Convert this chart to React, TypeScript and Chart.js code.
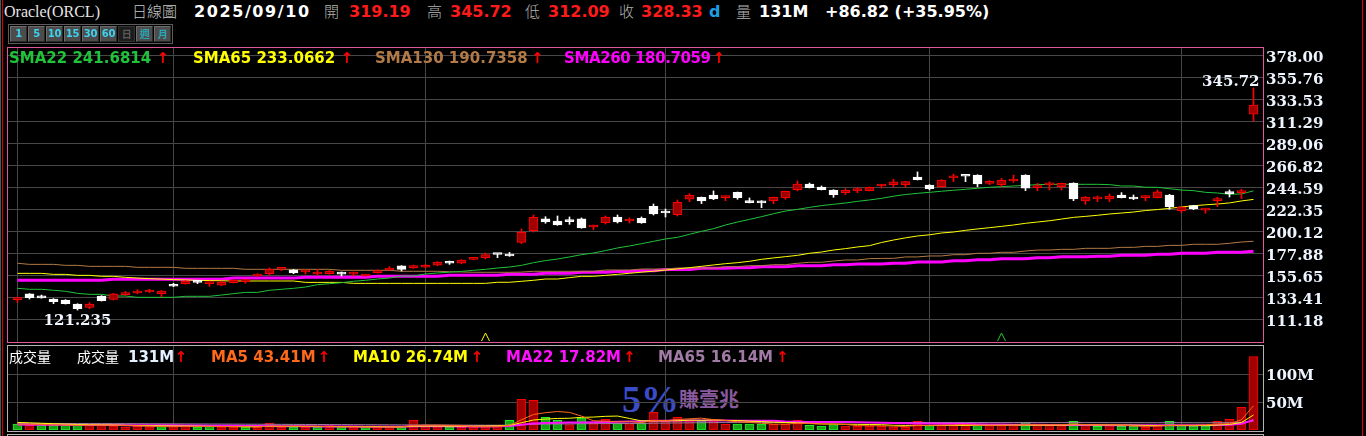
import React, { useEffect, useRef } from 'react';
import { Chart, registerables } from 'chart.js';

Chart.register(...registerables);

// ---------------- data ----------------
const opens = [
  131.8, 137.5, 135.4, 132.4, 131.4, 127.3, 124.0, 135.4, 132.1, 136.8,
  138.5, 139.5, 137.8, 146.9, 147.9, 149.5, 147.9, 146.5, 148.9, 150.0,
  155.65, 158.0, 162.5, 162.0, 159.8, 157.7, 158.0, 157.9, 157.6, 155.65,
  159.0, 161.7, 165.8, 163.7, 164.5, 166.5, 169.8, 168.5, 172.5, 174.2,
  177.7, 177.9, 189.7, 201.5, 213.3, 211.2, 210.8, 213.3, 205.2, 209.6,
  215.3, 211.2, 214.0, 226.1, 219.6, 217.6, 233.2, 235.2, 237.5, 234.8,
  240.2, 231.5, 229.8, 231.8, 234.8, 242.9, 248.6, 245.6, 242.6, 239.9,
  241.6, 241.9, 246.6, 248.0, 248.0, 255.7, 247.6, 245.9, 254.8, 256.8,
  257.7, 249.3, 248.0, 251.7, 257.7, 245.0, 247.8, 245.9, 249.6, 231.5,
  233.6, 233.5, 237.5, 235.5, 234.8, 234.8, 237.5, 221.7, 226.7, 222.2,
  231.8, 240.9, 239.9, 319.19,
];
const highs = [
  134.3, 137.9, 136.4, 132.8, 131.7, 127.6, 128.7, 135.8, 138.2, 140.0,
  141.8, 142.2, 141.0, 148.2, 151.0, 150.6, 149.6, 150.2, 152.0, 152.0,
  158.0, 163.7, 164.1, 162.3, 161.4, 162.4, 161.2, 159.7, 159.7, 157.3,
  161.7, 165.1, 166.1, 166.6, 167.2, 170.2, 170.8, 172.2, 174.2, 178.9,
  177.8, 179.5, 203.2, 217.3, 215.6, 216.3, 215.3, 214.3, 207.2, 216.3,
  217.3, 214.3, 215.3, 228.4, 223.3, 232.5, 238.9, 235.5, 241.6, 236.5,
  240.5, 234.5, 231.8, 235.5, 241.5, 251.7, 249.6, 246.6, 242.9, 243.9,
  244.9, 245.6, 248.3, 253.4, 251.4, 260.8, 248.0, 253.0, 258.7, 256.8,
  258.0, 252.0, 254.4, 257.7, 258.0, 249.3, 250.7, 249.6, 249.9, 236.0,
  236.5, 238.5, 239.9, 237.5, 236.8, 242.6, 238.2, 225.7, 227.1, 223.5,
  235.2, 242.6, 243.2, 345.72,
];
const lows = [
  128.9, 132.4, 133.2, 127.7, 127.3, 121.235, 122.6, 130.3, 131.4, 136.2,
  137.8, 139.0, 134.8, 144.9, 147.4, 147.9, 145.2, 146.0, 148.5, 148.3,
  155.3, 156.6, 161.0, 158.0, 157.7, 156.3, 157.5, 155.65, 155.65, 155.3,
  158.6, 161.3, 160.7, 163.3, 164.0, 166.0, 167.4, 168.0, 172.0, 172.9,
  174.2, 175.5, 188.3, 200.1, 208.9, 206.9, 207.9, 203.9, 202.5, 208.2,
  209.2, 209.2, 208.9, 217.3, 215.3, 216.3, 230.8, 228.8, 232.8, 231.8,
  233.2, 229.5, 224.7, 228.8, 233.2, 241.6, 244.6, 242.6, 235.2, 237.9,
  239.9, 241.6, 244.6, 246.0, 245.3, 252.7, 242.6, 245.3, 251.0, 251.0,
  245.9, 248.0, 246.0, 250.3, 241.9, 241.9, 242.6, 242.6, 231.8, 228.1,
  230.8, 230.8, 234.5, 232.8, 231.8, 234.5, 223.0, 219.7, 222.7, 219.0,
  225.7, 235.5, 233.9, 312.09,
];
const closes = [
  132.3, 133.7, 133.6, 129.7, 127.7, 122.6, 127.3, 130.7, 137.5, 138.8,
  140.5, 141.5, 140.5, 145.3, 150.6, 149.2, 148.3, 149.6, 151.3, 150.4,
  157.7, 162.4, 162.8, 158.7, 160.1, 159.7, 160.7, 157.6, 157.9, 157.0,
  161.0, 163.7, 162.4, 166.1, 166.8, 169.8, 168.5, 171.8, 173.4, 177.2,
  177.4, 175.9, 199.8, 214.9, 210.2, 207.2, 210.6, 204.2, 207.2, 215.3,
  210.2, 213.2, 209.2, 218.3, 219.3, 230.1, 237.2, 231.5, 233.5, 236.5,
  234.8, 229.8, 229.5, 235.2, 241.2, 248.6, 244.9, 242.9, 237.9, 242.6,
  243.9, 245.3, 248.0, 250.7, 251.0, 253.0, 243.9, 252.7, 255.2, 256.5,
  248.6, 250.6, 252.3, 253.7, 244.3, 245.4, 248.2, 249.3, 233.5, 235.5,
  234.0, 236.5, 234.8, 233.5, 236.5, 240.6, 225.7, 225.4, 223.8, 223.5,
  233.5, 238.9, 241.51, 328.33,
];
const prevClose = 134.0;

const sma22 = [
  143.2, 142.2, 142.2, 141.2, 140.2, 138.1, 137.1, 137.1, 135.4, 135.4,
  134.1, 134.1, 134.1, 134.1, 135.1, 135.1, 135.1, 136.4, 137.8, 139.1,
  139.1, 141.2, 142.2, 143.2, 144.5, 146.9, 147.9, 148.9, 150.3, 151.3,
  152.6, 153.6, 155.65, 155.65, 157.7, 158.7, 159.5, 160.3, 161.4, 162.4,
  163.7, 164.7, 166.4, 169.1, 171.2, 172.8, 174.9, 177.2, 178.9, 181.3,
  184.0, 186.0, 188.3, 190.7, 193.1, 194.7, 197.8, 200.8, 203.5, 207.2,
  210.2, 212.9, 215.6, 218.6, 221.3, 223.0, 225.0, 226.8, 228.1, 229.4,
  231.1, 232.5, 234.1, 236.3, 238.0, 239.2, 240.2, 241.3, 242.3, 243.3,
  244.3, 245.3, 246.0, 246.6, 247.3, 248.0, 248.3, 248.3, 248.3, 248.3,
  248.3, 248.0, 246.6, 246.6, 245.3, 245.3, 243.9, 242.5, 241.9, 240.2,
  239.5, 238.2, 238.6, 241.68,
];
const sma65 = [
  158.3, 158.3, 158.3, 157.3, 157.3, 156.3, 156.3, 155.3, 155.3, 154.3,
  153.6, 153.0, 152.5, 152.0, 151.7, 151.3, 151.0, 150.8, 150.6, 150.6,
  150.6, 150.6, 150.6, 150.6, 149.2, 149.2, 149.2, 149.2, 148.2, 148.2,
  148.2, 148.2, 148.2, 148.2, 148.2, 148.2, 148.2, 148.2, 148.2, 148.2,
  149.3, 149.3, 150.3, 151.3, 152.6, 152.6, 154.0, 155.3, 155.3, 156.3,
  157.3, 158.4, 159.5, 160.5, 161.6, 162.8, 164.1, 165.4, 166.8, 168.1,
  169.1, 170.5, 172.5, 173.9, 175.2, 176.5, 178.6, 179.9, 181.9, 183.3,
  185.0, 186.3, 189.5, 192.0, 194.2, 196.1, 197.3, 199.1, 200.1, 201.8,
  203.2, 204.5, 205.8, 207.2, 208.9, 210.2, 211.5, 213.2, 214.9, 215.9,
  217.0, 218.3, 219.3, 220.3, 221.8, 222.8, 224.0, 225.4, 226.7, 227.6,
  228.4, 229.5, 231.5, 233.07,
];
const sma130 = [
  168.5, 167.4, 167.4, 167.4, 166.4, 166.4, 165.4, 165.4, 165.4, 165.4,
  164.4, 164.4, 164.4, 164.4, 163.4, 163.4, 163.4, 163.4, 163.4, 162.4,
  162.4, 162.4, 162.4, 162.4, 162.4, 162.4, 162.4, 161.4, 161.4, 161.4,
  161.4, 161.4, 160.4, 160.4, 160.4, 160.4, 160.0, 159.7, 159.4, 159.4,
  159.4, 159.4, 159.6, 160.4, 160.4, 160.4, 160.4, 160.4, 160.4, 161.7,
  161.7, 161.7, 162.7, 162.7, 162.7, 163.7, 163.7, 163.7, 163.7, 165.1,
  165.1, 166.1, 166.1, 167.1, 167.1, 168.5, 169.5, 169.5, 170.8, 171.8,
  171.8, 173.2, 173.4, 173.5, 174.9, 174.9, 175.9, 175.9, 177.2, 177.2,
  178.6, 178.6, 179.6, 179.6, 180.9, 181.9, 181.9, 182.6, 182.6, 183.6,
  183.6, 183.6, 184.6, 184.6, 185.6, 185.6, 186.6, 186.6, 187.7, 187.7,
  187.7, 188.7, 190.0, 190.74,
];
const sma260 = [
  151.3, 151.3, 151.3, 151.3, 151.3, 151.3, 151.3, 151.3, 152.3, 152.3,
  152.3, 152.3, 152.3, 152.3, 152.3, 152.3, 152.3, 152.3, 153.5, 153.5,
  153.5, 153.5, 153.5, 153.5, 154.3, 154.3, 154.3, 154.3, 154.3, 154.3,
  155.3, 155.3, 155.3, 155.3, 155.3, 155.3, 156.3, 156.3, 156.3, 156.3,
  156.3, 157.3, 157.3, 157.3, 158.4, 158.4, 158.4, 159.4, 159.4, 159.4,
  160.2, 160.2, 161.0, 161.0, 162.1, 162.1, 162.1, 163.4, 163.4, 163.4,
  164.1, 164.1, 165.1, 165.1, 165.1, 166.1, 166.1, 166.1, 167.1, 167.1,
  167.8, 167.8, 167.8, 168.6, 168.6, 169.8, 169.8, 169.8, 171.0, 171.0,
  172.0, 172.0, 173.0, 173.0, 173.0, 174.0, 174.0, 175.0, 175.0, 175.0,
  175.7, 175.7, 176.7, 176.7, 176.7, 177.7, 177.7, 178.7, 178.7, 178.7,
  179.7, 179.7, 179.7, 180.71,
];

// volume in millions
const volume = [
  10.7, 8.3, 8.3, 8.3, 8.3, 9.5, 8.9, 8.9, 7.1, 5.4,
  6.5, 5.4, 6.0, 6.0, 7.7, 5.4, 6.5, 5.4, 5.4, 5.4,
  5.4, 12.5, 5.4, 5.4, 5.4, 5.4, 7.7, 4.8, 4.8, 4.8,
  5.4, 7.1, 6.0, 17.3, 7.1, 6.0, 5.4, 5.4, 5.4, 6.5,
  7.1, 17.3, 54.7, 53.0, 22.6, 17.3, 9.5, 21.4, 11.9, 19.0,
  11.9, 11.3, 11.9, 31.5, 16.1, 22.6, 17.9, 17.9, 17.9, 10.1,
  10.7, 10.7, 10.7, 10.1, 10.1, 17.9, 8.3, 7.1, 9.5, 7.1,
  7.1, 7.1, 7.1, 5.4, 4.8, 15.5, 8.3, 8.3, 8.3, 8.3,
  8.9, 8.3, 8.3, 8.3, 13.7, 8.3, 8.3, 7.7, 15.5, 8.3,
  6.5, 8.3, 6.5, 7.1, 4.8, 7.7, 15.5, 8.3, 7.1, 7.1,
  15.5, 19.0, 40.5, 131.0,
];
const volMa5 = [
  10.5, 10.3, 9.8, 9.2, 8.8, 8.5, 8.7, 8.8, 8.5, 8.0,
  7.4, 6.7, 6.1, 5.9, 6.3, 6.1, 6.3, 6.2, 6.1, 5.6,
  5.6, 6.8, 6.8, 6.8, 6.8, 6.8, 5.9, 5.7, 5.6, 5.5,
  5.3, 5.4, 5.6, 8.1, 8.6, 8.7, 8.4, 8.2, 5.9, 5.7,
  6.0, 8.3, 18.2, 27.7, 30.9, 33.0, 31.4, 24.8, 16.5, 15.8,
  14.7, 15.1, 13.2, 17.1, 16.5, 18.7, 20.0, 21.2, 18.5, 17.1,
  14.6, 13.5, 12.0, 10.5, 10.5, 11.9, 11.4, 10.7, 10.6, 9.9,
  7.8, 7.6, 7.6, 6.9, 6.4, 8.1, 8.3, 8.6, 9.0, 9.8,
  8.4, 8.4, 8.4, 8.4, 9.5, 9.4, 9.3, 9.3, 10.7, 9.6,
  9.3, 9.3, 9.0, 7.3, 6.6, 6.9, 8.3, 8.7, 8.7, 9.1,
  10.7, 11.4, 18.2, 43.41,
];
const volMa10 = [
  13.5, 12.8, 12.0, 11.2, 10.5, 9.8, 9.5, 9.2, 8.9, 8.4,
  8.0, 7.7, 7.4, 7.2, 7.1, 6.8, 6.5, 6.2, 6.0, 5.9,
  5.9, 6.5, 6.4, 6.4, 6.2, 6.2, 6.3, 6.2, 6.1, 6.0,
  6.0, 5.5, 5.6, 6.8, 6.9, 7.0, 6.8, 6.9, 7.0, 7.2,
  7.4, 8.4, 13.0, 17.9, 19.5, 20.6, 21.0, 22.6, 23.1, 24.4,
  24.9, 20.6, 16.3, 16.2, 16.5, 16.5, 17.6, 17.3, 17.9, 17.0,
  17.0, 15.7, 15.1, 14.0, 13.3, 12.8, 11.9, 10.8, 10.7, 10.4,
  10.1, 9.8, 9.5, 8.4, 8.1, 8.1, 7.9, 8.0, 8.1, 8.2,
  8.4, 8.4, 8.5, 8.8, 8.7, 8.6, 8.6, 8.6, 9.3, 9.2,
  9.0, 9.0, 8.8, 8.7, 8.2, 8.1, 8.3, 8.0, 7.9, 8.0,
  8.9, 10.0, 13.4, 26.74,
];
const volMa22 = [
  9.6, 9.5, 9.4, 9.3, 9.2, 9.1, 9.0, 8.9, 8.8, 8.7,
  8.6, 8.5, 8.4, 8.3, 8.2, 8.0, 7.8, 7.6, 7.4, 7.2,
  7.0, 7.0, 6.9, 6.7, 6.6, 6.4, 6.3, 6.2, 6.1, 6.0,
  6.0, 6.0, 6.0, 6.5, 6.5, 6.5, 6.5, 6.4, 6.4, 6.4,
  6.5, 7.0, 9.2, 11.5, 12.4, 13.0, 13.2, 13.6, 14.0, 14.5,
  14.8, 15.2, 15.6, 16.3, 16.5, 16.8, 17.0, 17.0, 17.0, 16.8,
  16.7, 16.7, 16.6, 16.5, 15.0, 14.6, 14.4, 14.3, 14.3, 14.2,
  14.0, 13.6, 13.0, 12.4, 11.9, 11.7, 11.4, 11.2, 11.0, 10.6,
  10.4, 10.0, 9.6, 9.4, 9.4, 9.2, 9.0, 8.8, 9.1, 8.9,
  8.8, 8.7, 8.7, 8.7, 8.5, 8.4, 8.7, 8.7, 8.6, 8.6,
  9.0, 9.5, 11.0, 17.82,
];
const volMa65 = [
  11.8, 11.8, 11.7, 11.7, 11.6, 11.6, 11.5, 11.5, 11.4, 11.4,
  11.3, 11.2, 11.1, 11.0, 10.9, 10.8, 10.7, 10.6, 10.5, 10.4,
  10.3, 10.2, 10.1, 10.0, 9.9, 9.8, 9.7, 9.6, 9.5, 9.4,
  9.3, 9.2, 9.1, 9.0, 9.0, 8.9, 8.8, 8.7, 8.6, 8.5,
  8.5, 8.7, 9.5, 10.3, 10.6, 10.8, 10.9, 11.2, 11.3, 11.5,
  11.6, 11.7, 11.8, 12.2, 12.4, 12.6, 12.8, 13.0, 13.2, 13.2,
  13.3, 13.3, 13.4, 13.4, 13.4, 13.5, 13.5, 13.5, 13.5, 13.5,
  13.5, 13.5, 13.5, 13.4, 13.4, 13.4, 13.4, 13.4, 13.4, 13.4,
  13.4, 13.3, 13.3, 13.3, 13.3, 13.3, 13.2, 13.2, 13.2, 13.2,
  13.2, 13.1, 13.1, 13.1, 13.0, 13.0, 13.0, 13.0, 12.9, 12.9,
  13.0, 13.2, 13.7, 16.14,
];

// month boundaries (candle index) for vertical grid lines
const monthStarts = [0, 13, 34, 54, 76, 97];
const priceTicks = [378.0, 355.76, 333.53, 311.29, 289.06, 266.82, 244.59, 222.35, 200.12, 177.88, 155.65, 133.41, 111.18];
const volTicks = [50, 100];
const signalIdx = [39, 82];

// header texts
const headerTitle = 'Oracle(ORCL)';
const headerPeriod = '日線圖';
const headerDate = '2025/09/10';
const headerOpen = '319.19';
const headerHigh = '345.72';
const headerLow = '312.09';
const headerClose = '328.33';
const headerVol = '131M';
const headerChange = '+86.82 (+35.95%)';
const buttonLabels = ['1', '5', '10', '15', '30', '60', '日', '週', '月'];
const smaLabels = ['SMA22 241.6814', 'SMA65 233.0662', 'SMA130 190.7358', 'SMA260 180.7059'];
const volLabels = ['MA5 43.41M', 'MA10 26.74M', 'MA22 17.82M', 'MA65 16.14M'];

// ---------------- styling ----------------
const N = closes.length;
const IDX = closes.map((_, i) => i);
const PRICE_MIN = 88.94;
const PRICE_MAX = 387.09;
const VOL_MAX = 151.8;
const X_MIN = -0.875;
const X_MAX = X_MIN + 1256 / 12;

const GRID = '#474747';
const AXIS_TEXT = '#eef5ff';
const RED = '#ff0000';
const RED_FILL = '#a20000';
const GREEN = '#22ee22';
const GREEN_FILL = '#16a416';
const C_SMA22 = '#1fc43a';
const C_SMA65 = '#ffff00';
const C_SMA130 = '#b27a46';
const C_SMA260 = '#ff00ff';
const C_MA5 = '#ff6a1a';
const C_MA10 = '#ffff00';
const C_MA22 = '#ff11ff';
const C_MA65 = '#a27aa6';
const signalColors = ['#ffff00', '#22cc33'];

const SANS = '"DejaVu Sans", Verdana, sans-serif';
const SERIF = '"DejaVu Serif", serif';
const CJK = '"Noto Sans CJK TC", "Noto Sans CJK SC", sans-serif';

const isUp = (i: number) => closes[i] >= opens[i];
const volUp = (i: number) => closes[i] >= (i === 0 ? prevClose : closes[i - 1]);

const xScale = {
  type: 'linear',
  min: X_MIN,
  max: X_MAX,
  offset: false,
  afterBuildTicks: (s: any) => {
    s.ticks = monthStarts.map((v) => ({ value: v }));
  },
  afterFit: (s: any) => {
    s.height = 0;
    s.paddingLeft = 0;
    s.paddingRight = 0;
  },
  ticks: { display: false },
  grid: { color: GRID, drawTicks: false, offset: false },
  border: { display: false },
};

const yFit = (s: any) => {
  s.width = 103;
  s.paddingTop = 0;
  s.paddingBottom = 0;
};

const overlayPlugin = {
  id: 'hiloOverlay',
  afterDatasetsDraw(chart: any) {
    const { ctx, scales, chartArea } = chart;
    const xs = scales.x;
    const ys = scales.y;
    let hi = 0;
    let lo = 0;
    for (let i = 1; i < N; i++) {
      if (highs[i] > highs[hi]) hi = i;
      if (lows[i] < lows[lo]) lo = i;
    }
    ctx.save();
    ctx.font = 'bold 15px ' + SERIF;
    ctx.fillStyle = AXIS_TEXT;
    ctx.textBaseline = 'alphabetic';
    ctx.textAlign = 'right';
    ctx.fillText(highs[hi].toFixed(2), xs.getPixelForValue(hi) + 6, ys.getPixelForValue(highs[hi]) - 2);
    ctx.textAlign = 'center';
    ctx.fillText(String(lows[lo]), xs.getPixelForValue(lo), ys.getPixelForValue(lows[lo]) + 15);
    const by = chartArea.bottom - 1;
    signalIdx.forEach((si, k) => {
      const cx = Math.floor(xs.getPixelForValue(si)) + 0.5;
      ctx.strokeStyle = signalColors[k];
      ctx.lineWidth = 1;
      ctx.beginPath();
      ctx.moveTo(cx - 4, by);
      ctx.lineTo(cx, by - 8);
      ctx.lineTo(cx + 4, by);
      ctx.stroke();
    });
    ctx.restore();
  },
};

const lineDs = (data: number[], color: string, width: number, order: number) => ({
  type: 'line',
  data: IDX.map((i) => ({ x: i, y: data[i] })),
  borderColor: color,
  borderWidth: width,
  pointRadius: 0,
  fill: false,
  tension: 0,
  order,
});

function buildPriceConfig(): any {
  return {
    type: 'bar',
    data: {
      datasets: [
        {
          type: 'bar',
          data: IDX.map((i) => ({ x: i, y: [opens[i], closes[i]] })),
          backgroundColor: IDX.map((i) => (isUp(i) ? RED_FILL : '#ffffff')),
          borderColor: IDX.map((i) => (isUp(i) ? RED : '#ffffff')),
          borderWidth: 1,
          borderSkipped: false,
          barThickness: 9,
          minBarLength: 2,
          grouped: false,
          order: 0,
        },
        {
          type: 'bar',
          data: IDX.map((i) => ({ x: i, y: [lows[i], highs[i]] })),
          backgroundColor: IDX.map((i) => (isUp(i) ? RED : '#ffffff')),
          borderWidth: 0,
          barThickness: 1,
          grouped: false,
          order: 1,
        },
        lineDs(sma22, C_SMA22, 1, 2),
        lineDs(sma65, C_SMA65, 1, 3),
        lineDs(sma130, C_SMA130, 1, 4),
        lineDs(sma260, C_SMA260, 3, 5),
      ],
    },
    options: {
      animation: false,
      responsive: false,
      events: [],
      layout: { padding: { left: 7, right: 0, top: 1, bottom: 1 } },
      plugins: { legend: { display: false }, tooltip: { enabled: false } },
      scales: {
        x: xScale,
        y: {
          type: 'linear',
          position: 'right',
          min: PRICE_MIN,
          max: PRICE_MAX,
          beginAtZero: false,
          afterBuildTicks: (s: any) => {
            s.ticks = priceTicks.map((v) => ({ value: v }));
          },
          afterFit: yFit,
          ticks: {
            autoSkip: false,
            padding: 3,
            labelOffset: 2,
            color: AXIS_TEXT,
            font: { family: SERIF, size: 15, weight: 'bold' },
            callback: (v: any) => Number(v).toFixed(2),
          },
          grid: { color: GRID, drawTicks: false },
          border: { display: false },
        },
      },
    },
    plugins: [overlayPlugin],
  };
}

function buildVolConfig(): any {
  return {
    type: 'bar',
    data: {
      datasets: [
        {
          type: 'bar',
          data: IDX.map((i) => ({ x: i, y: volume[i] })),
          backgroundColor: IDX.map((i) => (volUp(i) ? RED_FILL : GREEN_FILL)),
          borderColor: IDX.map((i) => (volUp(i) ? RED : GREEN)),
          borderWidth: 1,
          borderSkipped: false,
          barThickness: 9,
          grouped: false,
          order: 5,
        },
        lineDs(volMa65, C_MA65, 1, 4),
        lineDs(volMa22, C_MA22, 2, 3),
        lineDs(volMa10, C_MA10, 1, 2),
        lineDs(volMa5, C_MA5, 1, 1),
      ],
    },
    options: {
      animation: false,
      responsive: false,
      events: [],
      layout: { padding: { left: 7, right: 0, top: 5, bottom: 6 } },
      plugins: { legend: { display: false }, tooltip: { enabled: false } },
      scales: {
        x: xScale,
        y: {
          type: 'linear',
          position: 'right',
          min: 0,
          max: VOL_MAX,
          afterBuildTicks: (s: any) => {
            s.ticks = volTicks.map((v) => ({ value: v }));
          },
          afterFit: yFit,
          ticks: {
            autoSkip: false,
            padding: 3,
            labelOffset: 2,
            color: AXIS_TEXT,
            font: { family: SERIF, size: 15, weight: 'bold' },
            callback: (v: any) => v + 'M',
          },
          grid: { color: GRID, drawTicks: false },
          border: { display: false },
        },
      },
    },
  };
}

type TP = { x: number; y: number; c: string; size: number; fam?: string; w?: any; lh?: number; ls?: number; children: any };
function T({ x, y, c, size, fam, w, lh, ls, children }: TP) {
  return (
    <div
      style={{
        position: 'absolute',
        left: x,
        top: y,
        color: c,
        fontFamily: fam || SANS,
        fontSize: size,
        fontWeight: w === undefined ? 'bold' : w,
        lineHeight: (lh || size) + 'px',
        letterSpacing: ls || 0,
        whiteSpace: 'nowrap',
      }}
    >
      {children}
    </div>
  );
}

function Arrow({ cx, y }: { cx: number; y: number }) {
  return (
    <T x={cx - 6.3} y={y} c={RED} size={15}>
      ↑
    </T>
  );
}

export default function App() {
  const priceRef = useRef<HTMLCanvasElement>(null);
  const volRef = useRef<HTMLCanvasElement>(null);

  useEffect(() => {
    const pc = new Chart(priceRef.current as HTMLCanvasElement, buildPriceConfig());
    const vc = new Chart(volRef.current as HTMLCanvasElement, buildVolConfig());
    return () => {
      pc.destroy();
      vc.destroy();
    };
  }, []);

  const labelGrey = '#b4b4b4';
  const numRed = '#ff1a1a';

  return (
    <div
      style={{
        position: 'fixed',
        left: 0,
        top: 0,
        width: 1366,
        height: 436,
        background: '#000',
        overflow: 'hidden',
      }}
    >
      {/* watermark behind the volume bars */}
      <T x={622} y={380} c="#3a4cc6" size={38} fam='"Liberation Serif", serif' lh={38}>
        5%
      </T>
      <T x={679} y={389} c="#8a5a9e" size={20} fam={CJK} w={600} lh={20}>
        賺壹兆
      </T>

      <canvas ref={priceRef} width={1366} height={297} style={{ position: 'absolute', left: 0, top: 46 }} />
      <canvas ref={volRef} width={1366} height={96} style={{ position: 'absolute', left: 0, top: 340 }} />

      {/* frame lines */}
      <div style={{ position: 'absolute', left: 0, top: 0, width: 1, height: 436, background: '#555' }} />
      <div style={{ position: 'absolute', left: 2, top: 0, width: 1, height: 436, background: '#d80000' }} />
      <div style={{ position: 'absolute', left: 1362, top: 0, width: 1, height: 436, background: '#e00000' }} />
      <div
        style={{
          position: 'absolute',
          left: 7,
          top: 47,
          width: 1257,
          height: 296,
          boxSizing: 'border-box',
          border: '1px solid #e0579a',
        }}
      />
      <div
        style={{
          position: 'absolute',
          left: 7,
          top: 345,
          width: 1257,
          height: 87,
          boxSizing: 'border-box',
          border: '1px solid #b4b4b4',
        }}
      />
      <div
        style={{
          position: 'absolute',
          left: 7,
          top: 434,
          width: 1257,
          height: 10,
          boxSizing: 'border-box',
          border: '1px solid #b4b4b4',
        }}
      />

      {/* header row */}
      <T x={4} y={4} c="#e6e6e6" size={16} fam='"Liberation Serif", serif' w="normal" lh={16}>
        {headerTitle}
      </T>
      <T x={132} y={3} c="#c8c8c8" size={15} fam={CJK} w={300} lh={16}>
        {headerPeriod}
      </T>
      <T x={194} y={4} c="#ffffff" size={16} ls={1.6}>
        {headerDate}
      </T>
      <T x={324} y={3} c={labelGrey} size={15} fam={CJK} w={300} lh={16}>
        開
      </T>
      <T x={349} y={4} c={numRed} size={16}>
        {headerOpen}
      </T>
      <T x={427} y={3} c={labelGrey} size={15} fam={CJK} w={300} lh={16}>
        高
      </T>
      <T x={450} y={4} c={numRed} size={16}>
        {headerHigh}
      </T>
      <T x={525} y={3} c={labelGrey} size={15} fam={CJK} w={300} lh={16}>
        低
      </T>
      <T x={548} y={4} c={numRed} size={16}>
        {headerLow}
      </T>
      <T x={619} y={3} c={labelGrey} size={15} fam={CJK} w={300} lh={16}>
        收
      </T>
      <T x={641} y={4} c={numRed} size={16}>
        {headerClose}
      </T>
      <T x={709} y={4} c="#1c9ee6" size={16}>
        d
      </T>
      <T x={736} y={3} c={labelGrey} size={15} fam={CJK} w={300} lh={16}>
        量
      </T>
      <T x={759} y={4} c="#ffffff" size={16}>
        {headerVol}
      </T>
      <T x={825} y={4} c="#ffffff" size={16}>
        {headerChange}
      </T>

      {/* period buttons */}
      <div
        style={{
          position: 'absolute',
          left: 8,
          top: 24,
          width: 165,
          height: 20,
          boxSizing: 'border-box',
          border: '1px solid #5c5c5c',
        }}
      />
      {buttonLabels.map((b, k) => (
        <div
          key={b}
          style={{
            position: 'absolute',
            left: 10 + 18 * k,
            top: 26,
            width: 17,
            height: 16,
            boxSizing: 'border-box',
            background: k === 6 ? '#1d1d1d' : '#4c4c4c',
            borderStyle: 'solid',
            borderWidth: 1,
            borderColor: k === 6 ? '#333 #333 #333 #333' : '#6c6c6c #2a2a2a #2a2a2a #6c6c6c',
            color: k === 6 ? '#5a5a5a' : k > 6 ? '#2aa8b8' : '#3fd2ee',
            fontFamily: k >= 6 ? CJK : SANS,
            fontWeight: 'bold',
            fontSize: 10,
            lineHeight: '14px',
            textAlign: 'center',
            letterSpacing: -0.3,
          }}
        >
          {b}
        </div>
      ))}

      {/* price MA legend */}
      <T x={9} y={51} c={C_SMA22} size={15}>
        {smaLabels[0]}
      </T>
      <Arrow cx={163} y={51} />
      <T x={193} y={51} c={C_SMA65} size={15}>
        {smaLabels[1]}
      </T>
      <Arrow cx={347} y={51} />
      <T x={375} y={51} c={C_SMA130} size={15}>
        {smaLabels[2]}
      </T>
      <Arrow cx={537.5} y={51} />
      <T x={564} y={51} c={C_SMA260} size={15} ls={-0.4}>
        {smaLabels[3]}
      </T>
      <Arrow cx={719} y={51} />

      {/* volume legend */}
      <T x={9} y={349} c="#ffffff" size={14} fam={CJK} w="normal" lh={14}>
        成交量
      </T>
      <T x={77} y={349} c="#ffffff" size={14} fam={CJK} w="normal" lh={14}>
        成交量
      </T>
      <T x={128} y={350} c="#e2f0ff" size={15}>
        {headerVol}
      </T>
      <Arrow cx={181} y={350} />
      <T x={211} y={350} c={C_MA5} size={15}>
        {volLabels[0]}
      </T>
      <Arrow cx={324} y={350} />
      <T x={353} y={350} c={C_MA10} size={15}>
        {volLabels[1]}
      </T>
      <Arrow cx={477} y={350} />
      <T x={506} y={350} c={C_MA22} size={15}>
        {volLabels[2]}
      </T>
      <Arrow cx={629.5} y={350} />
      <T x={658} y={350} c={C_MA65} size={15}>
        {volLabels[3]}
      </T>
      <Arrow cx={782.5} y={350} />
    </div>
  );
}
